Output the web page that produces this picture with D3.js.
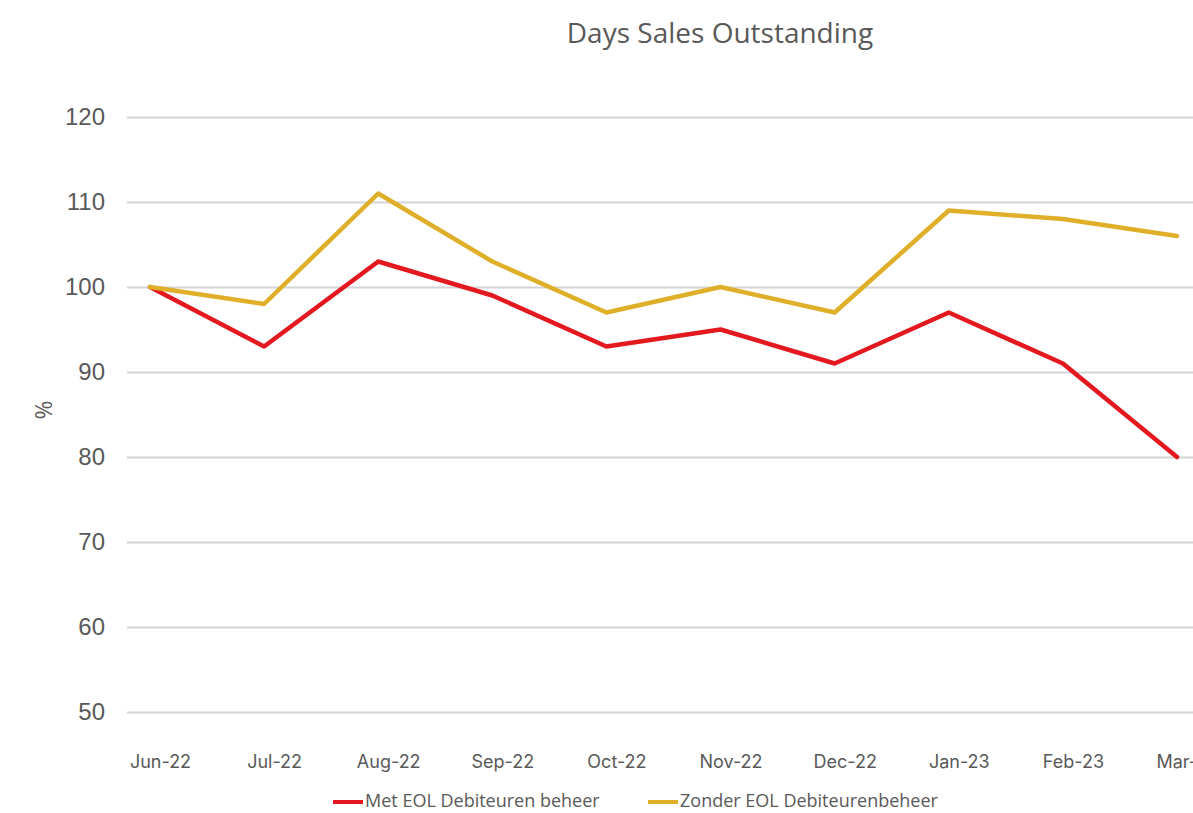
<!DOCTYPE html>
<html>
<head>
<meta charset="utf-8">
<script src="https://cdn.jsdelivr.net/npm/d3@7"></script>
<style>
body { margin: 0; background: #fff; }
svg { display: block; }
</style>
</head>
<body>
<svg id="chart" width="1193" height="813"></svg>
<script>
// data
var MONTHS = ["Jun-22", "Jul-22", "Aug-22", "Sep-22", "Oct-22", "Nov-22", "Dec-22", "Jan-23", "Feb-23", "Mar-23"];
var MET = [100, 93, 103, 99, 93, 95, 91, 97, 91, 80];
var ZONDER = [100, 98, 111, 103, 97, 100, 97, 109, 108, 106];
var Y_TICKS = [50, 60, 70, 80, 90, 100, 110, 120];

var RED = "#e3191f";
var GOLD = "#e0af2a";
var TXT = "#595959";

var svg = d3.select("#chart");

var x = d3.scalePoint().domain(MONTHS).range([150, 1177]);
var y = d3.scaleLinear().domain([50, 120]).range([712, 117]);

// title
svg.append("text")
	.attr("x", 720).attr("y", 43)
	.attr("text-anchor", "middle")
	.attr("font-family", "Open Sans")
	.attr("font-size", 28)
	.attr("fill", TXT)
	.text("Days Sales Outstanding");

// gridlines + y labels
var yAxis = d3.axisLeft(y).tickValues(Y_TICKS).tickSize(-(1193 - 127)).tickPadding(22);
var gy = svg.append("g").attr("transform", "translate(127,0)").call(yAxis);
gy.select(".domain").remove();
gy.selectAll(".tick line").attr("stroke", "#d4d4d4").attr("stroke-width", 2);
gy.selectAll(".tick text")
	.attr("font-family", "Liberation Sans")
	.attr("font-size", 24)
	.attr("fill", TXT);

// x labels (last one runs off the right edge, as in the source)
var xAxis = d3.axisBottom(x).tickSize(0).tickPadding(0);
var gx = svg.append("g").attr("transform", "translate(10,755)").call(xAxis);
gx.select(".domain").remove();
gx.selectAll(".tick text")
	.attr("font-family", "Inter")
	.attr("font-size", 18)
	.attr("fill", TXT);

// y title
svg.append("text")
	.attr("transform", "translate(52,410) rotate(-90)")
	.attr("text-anchor", "middle")
	.attr("font-family", "Open Sans")
	.attr("font-size", 23)
	.attr("fill", TXT)
	.text("%");

// lines
var line = d3.line()
	.x(function(d, i){ return x(MONTHS[i]); })
	.y(function(d){ return y(d); });

svg.append("path").datum(MET)
	.attr("d", line).attr("fill", "none")
	.attr("stroke", RED).attr("stroke-width", 4.5)
	.attr("stroke-linejoin", "round").attr("stroke-linecap", "round");
svg.append("path").datum(ZONDER)
	.attr("d", line).attr("fill", "none")
	.attr("stroke", GOLD).attr("stroke-width", 4.5)
	.attr("stroke-linejoin", "round").attr("stroke-linecap", "round");

// legend
var legend = [
	{name: "Met EOL Debiteuren beheer", color: RED, x: 333},
	{name: "Zonder EOL Debiteurenbeheer", color: GOLD, x: 648}
];
var lg = svg.selectAll("g.legend").data(legend).enter().append("g")
	.attr("class", "legend")
	.attr("transform", function(d){ return "translate(" + d.x + ",802)"; });
lg.append("line")
	.attr("x1", 0).attr("x2", 30).attr("y1", 0).attr("y2", 0)
	.attr("stroke", function(d){ return d.color; }).attr("stroke-width", 4);
lg.append("text")
	.attr("x", 32).attr("y", 5)
	.attr("font-family", "Open Sans")
	.attr("font-size", 18)
	.attr("fill", TXT)
	.text(function(d){ return d.name; });
</script>
</body>
</html>
